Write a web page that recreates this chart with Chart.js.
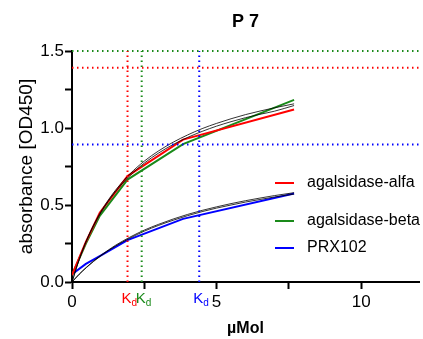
<!DOCTYPE html>
<html lang="en">
<head>
<meta charset="UTF-8">
<title>P 7</title>
<script src="https://cdn.jsdelivr.net/npm/chart.js"></script>
<style>
    body { margin: 0; background: #fff; }
    #chart { display: block; }
</style>
</head>
<body>
<canvas id="chart" width="423" height="339"></canvas>
<script>
// concentration series (µMol) and measured absorbance
const conc = [0, 0.48, 0.96, 1.92, 3.84, 7.68];
const alfaOD = [0.045, 0.26, 0.45, 0.688, 0.925, 1.12];
const betaOD = [0.045, 0.25, 0.43, 0.665, 0.895, 1.183];
const prxOD = [0.05, 0.118, 0.168, 0.272, 0.41, 0.575];

// fitted binding curves, read along a finer x grid
const fitX = [0, 0.25, 0.5, 0.75, 1, 1.25, 1.5, 2, 2.5, 3, 3.5, 4, 4.5, 5, 5.5, 6, 6.5, 7, 7.68];
const fitHighA = [0, 0.148, 0.270, 0.371, 0.457, 0.531, 0.595, 0.701, 0.785, 0.852, 0.908, 0.955, 0.996, 1.030, 1.060, 1.087, 1.110, 1.131, 1.157];
const fitHighB = [0, 0.145, 0.266, 0.366, 0.450, 0.523, 0.586, 0.690, 0.772, 0.838, 0.893, 0.939, 0.978, 1.012, 1.041, 1.067, 1.089, 1.109, 1.146];
const fitLowA = [0, 0.051, 0.096, 0.137, 0.174, 0.207, 0.238, 0.291, 0.337, 0.375, 0.409, 0.439, 0.465, 0.488, 0.509, 0.528, 0.545, 0.561, 0.580];
const fitLowB = [0, 0.050, 0.094, 0.134, 0.170, 0.203, 0.233, 0.285, 0.330, 0.368, 0.401, 0.431, 0.457, 0.480, 0.500, 0.519, 0.536, 0.552, 0.571];

// Kd / Bmax guide lines per sample
const labels = ['agalsidase-alfa', 'agalsidase-beta', 'PRX102'];
const colors = ['#ff0000', '#1a8a1a', '#0000ff'];
const kd = [1.92, 2.41, 4.4];
const bmax = [1.392, 1.5, 0.893];

const xTicks = [0, 2.5, 5, 7.5, 10];
const X_MAX = 12;
const Y_MAX = 1.5;

const pts = (xs, ys) => xs.map((x, i) => ({ x: x, y: ys[i] }));

const datasets = [];

// dotted guides
kd.forEach((k, i) => {
    datasets.push({
        data: [{ x: k, y: 0 }, { x: k, y: Y_MAX }],
        borderColor: colors[i], borderWidth: 2, borderDash: [1.5, 3.5],
        pointRadius: 0, clip: 4
    });
    datasets.push({
        data: [{ x: 0, y: bmax[i] }, { x: X_MAX, y: bmax[i] }],
        borderColor: colors[i], borderWidth: 2, borderDash: [1.5, 3.5],
        pointRadius: 0, clip: 4
    });
});

// fit curves
[fitHighA, fitHighB, fitLowA, fitLowB].forEach(f => {
    datasets.push({
        data: pts(fitX, f),
        borderColor: '#000', borderWidth: 0.8,
        pointRadius: 0, cubicInterpolationMode: 'monotone'
    });
});

// measured series
[alfaOD, betaOD, prxOD].forEach((ys, i) => {
    datasets.push({
        label: labels[i],
        data: pts(conc, ys),
        borderColor: colors[i], borderWidth: 2,
        pointRadius: 0
    });
});

const textPlugin = {
    id: 'texts',
    afterDraw(chart) {
        const ctx = chart.ctx;
        const xs = chart.scales.x;
        const area = chart.chartArea;
        const font = 'Liberation Sans, Arial, sans-serif';
        ctx.save();
        ctx.fillStyle = '#000';

        // title
        ctx.font = 'bold 18px ' + font;
        ctx.textAlign = 'center';
        ctx.textBaseline = 'alphabetic';
        ctx.fillText('P 7', (area.left + area.right) / 2, 27);

        // x axis title
        ctx.font = 'bold 16px ' + font;
        ctx.fillText('µMol', (area.left + area.right) / 2, 333);

        // y axis title
        ctx.save();
        ctx.translate(27, (area.top + area.bottom) / 2);
        ctx.rotate(-Math.PI / 2);
        ctx.font = '19px ' + font;
        ctx.textBaseline = 'middle';
        ctx.fillText('absorbance [OD450]', 0, 0);
        ctx.restore();

        // Kd markers under the axis
        ctx.textAlign = 'left';
        kd.forEach((k, i) => {
            const px = xs.getPixelForValue(k);
            ctx.fillStyle = colors[i];
            ctx.font = '15px ' + font;
            ctx.fillText('K', px - 6, 303);
            const w = ctx.measureText('K').width;
            ctx.font = '10px ' + font;
            ctx.fillText('d', px - 6 + w, 306);
        });

        // legend
        const legendY = [183, 221, 248];
        labels.forEach((l, i) => {
            ctx.strokeStyle = colors[i];
            ctx.lineWidth = 2;
            ctx.beginPath();
            ctx.moveTo(275, legendY[i]);
            ctx.lineTo(294, legendY[i]);
            ctx.stroke();
            ctx.fillStyle = '#000';
            ctx.font = '16px ' + font;
            ctx.textBaseline = 'middle';
            ctx.fillText(l, 307, legendY[i]);
        });
        ctx.restore();
    }
};

new Chart(document.getElementById('chart'), {
    type: 'line',
    data: { datasets: datasets },
    options: {
        responsive: false,
        animation: false,
        layout: { padding: { top: 51, right: 4, left: 0, bottom: 0 } },
        plugins: { legend: { display: false }, tooltip: { enabled: false }, title: { display: false } },
        scales: {
            x: {
                type: 'linear', min: 0, max: X_MAX,
                afterBuildTicks: s => { s.ticks = xTicks.map(v => ({ value: v })); },
                afterFit: s => { s.height = 57; },
                border: { color: '#000', width: 2 },
                grid: { drawOnChartArea: false, drawTicks: true, tickLength: 7, tickColor: '#000', tickWidth: 2 },
                ticks: {
                    color: '#000', padding: 3, maxRotation: 0, autoSkip: false,
                    font: { family: 'Liberation Sans, Arial, sans-serif', size: 17 },
                    callback: v => (v % 5 === 0 ? String(v) : '')
                }
            },
            y: {
                type: 'linear', min: 0, max: Y_MAX,
                afterFit: s => { s.width = 72; },
                border: { color: '#000', width: 2 },
                grid: { drawOnChartArea: false, drawTicks: true, tickLength: 7, tickColor: '#000', tickWidth: 2 },
                ticks: {
                    stepSize: 0.25, color: '#000', padding: 1,
                    font: { family: 'Liberation Sans, Arial, sans-serif', size: 17 },
                    callback: v => (Math.abs(v % 0.5) < 1e-9 ? v.toFixed(1) : '')
                }
            }
        }
    },
    plugins: [textPlugin]
});
</script>
</body>
</html>
